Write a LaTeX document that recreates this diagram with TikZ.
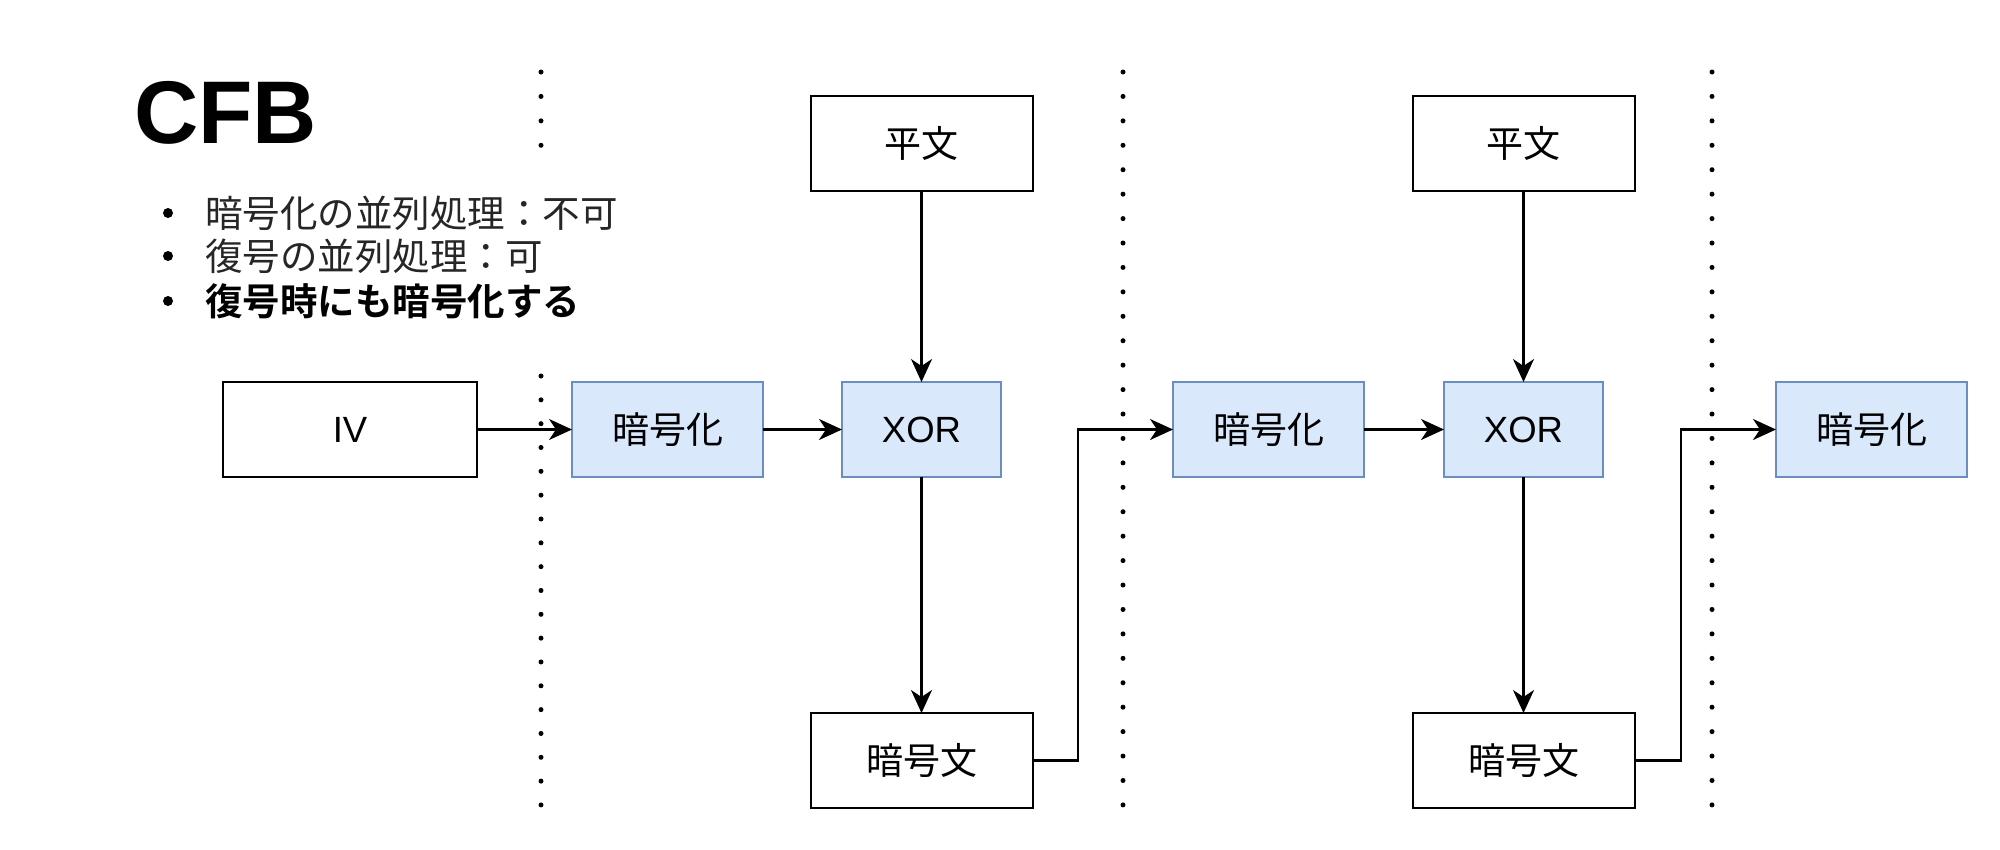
\documentclass[tikz,border=0pt]{standalone}
\usepackage{fontspec}
\setmainfont{Liberation Sans}
\newfontfamily\jp{Noto Sans CJK JP}[BoldFont={Noto Sans CJK JP Bold}]
\usetikzlibrary{arrows.meta}
\definecolor{bfill}{HTML}{DAE8FC}
\definecolor{bdraw}{HTML}{6C8EBF}
\definecolor{txtgray}{HTML}{262626}
\tikzset{
  box/.style={draw=black, line width=2pt, fill=white, minimum height=95pt, inner sep=0pt, outer sep=0pt, font=\fontsize{37}{40}\selectfont\jp},
  bluebox/.style={box, draw=bdraw, fill=bfill},
  latinbox/.style={font=\fontsize{36.5}{40}\selectfont},
  conn/.style={line width=2.4pt, -{Stealth[length=23pt, width=21pt, inset=7pt]}},
  dotline/.style={line width=5pt, line cap=round, dash pattern=on 0pt off #1},
  itemtext/.style={anchor=west, inner sep=0pt, text=txtgray, font=\fontsize{37.5}{40}\selectfont\jp},
}
\begin{document}
\begin{tikzpicture}[x=1pt, y=-1pt]
\useasboundingbox (0,0) rectangle (2000,849);
% dotted separators
\draw[dotline=24.43pt] (541,72) -- (541,147);
\draw[dotline=23.83pt] (541,376) -- (541,805);
\draw[dotline=24.43pt] (1123,72) -- (1123,805);
\draw[dotline=24.43pt] (1712,72) -- (1712,805);
% title and notes
\node[anchor=base west, inner sep=0pt, font=\fontsize{89}{100}\selectfont\bfseries] (title) at (134,143) {CFB};
\fill (168,213) circle (5pt);
\fill (168,256) circle (5pt);
\fill (168,301) circle (5pt);
\node[itemtext] (n1) at (205,213) {暗号化の並列処理：不可};
\node[itemtext] (n2) at (205,256) {復号の並列処理：可};
\node[itemtext, text=black, font=\fontsize{37.5}{40}\selectfont\jp\bfseries] (n3) at (205,301) {復号時にも暗号化する};
% boxes
\node[box, latinbox, minimum width=254pt] (iv) at (350,429.5) {IV};
\node[bluebox, minimum width=191pt] (enc1) at (667.5,429.5) {暗号化};
\node[bluebox, latinbox, minimum width=159pt] (xor1) at (921.5,429.5) {XOR};
\node[box, minimum width=222pt] (p1) at (921.5,143.5) {平文};
\node[box, minimum width=222pt] (c1) at (921.5,760.5) {暗号文};
\node[bluebox, minimum width=191pt] (enc2) at (1268.5,429.5) {暗号化};
\node[bluebox, latinbox, minimum width=159pt] (xor2) at (1523.5,429.5) {XOR};
\node[box, minimum width=222pt] (p2) at (1523.5,143.5) {平文};
\node[box, minimum width=222pt] (c2) at (1523.5,760.5) {暗号文};
\node[bluebox, minimum width=191pt] (enc3) at (1871.5,429.5) {暗号化};
% connectors
\coordinate (k1) at (1078,760.5);
\coordinate (k2) at (1681,760.5);
\draw[conn] (iv) -- (enc1);
\draw[conn] (enc1) -- (xor1);
\draw[conn] (p1) -- (xor1);
\draw[conn] (xor1) -- (c1);
\draw[conn] (c1.east) -- (k1) |- (enc2.west);
\draw[conn] (enc2) -- (xor2);
\draw[conn] (p2) -- (xor2);
\draw[conn] (xor2) -- (c2);
\draw[conn] (c2.east) -- (k2) |- (enc3.west);
\end{tikzpicture}
\end{document}
